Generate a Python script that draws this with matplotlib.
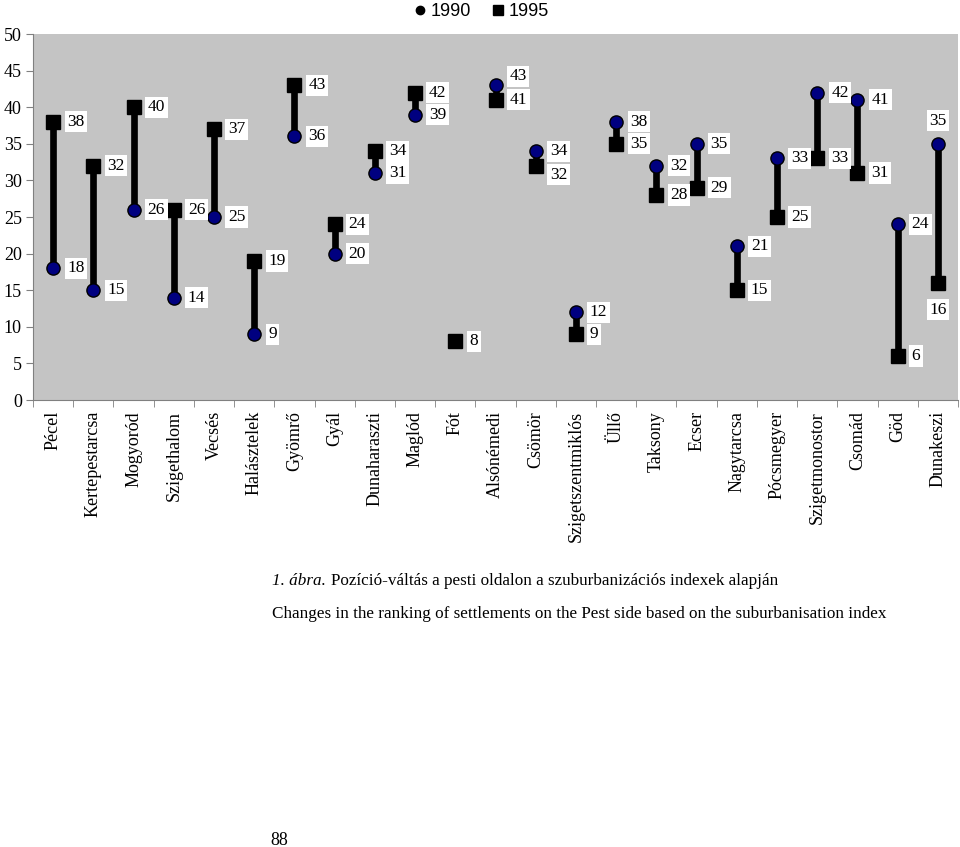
import matplotlib
matplotlib.use("Agg")
import matplotlib.pyplot as plt
from matplotlib.lines import Line2D

categories = ["Pécel", "Kertepestarcsa", "Mogyoród", "Szigethalom", "Vecsés",
              "Halásztelek", "Gyömrő", "Gyál", "Dunaharaszti", "Maglód", "Fót",
              "Alsónémedi", "Csömör", "Szigetszentmiklós", "Üllő", "Taksony",
              "Ecser", "Nagytarcsa", "Pócsmegyer", "Szigetmonostor", "Csomád",
              "Göd", "Dunakeszi"]
v1990 = [18, 15, 26, 14, 25, 9, 36, 20, 31, 39, 8, 43, 34, 12, 38, 32, 35, 21, 33, 42, 41, 24, 35]
v1995 = [38, 32, 40, 26, 37, 19, 43, 24, 34, 42, 8, 41, 32, 9, 35, 28, 29, 15, 25, 33, 31, 6, 16]

# label offsets in pixels (dx, dy, ha)
off1990 = {11: (14, 9, "left"), 22: (0, 23, "center")}
off1995 = {12: (14, -9, "left"), 22: (0, -27, "center")}

serif = ["Liberation Serif", "DejaVu Serif"]
sans = ["Liberation Sans", "DejaVu Sans"]

fig = plt.figure(figsize=(9.6, 8.47), dpi=100)
ax = fig.add_axes([33/960, 1-400/847, 925/960, 366/847])
ax.set_facecolor("#c4c4c4")

x = list(range(len(categories)))
for i in x:
    ax.plot([i, i], [v1990[i], v1995[i]], color="black", lw=4.8, solid_capstyle="butt", zorder=2)
ax.plot(x, v1990, "o", ls="none", ms=9.5, mfc="#000080", mec="black", mew=1.0, zorder=3)
ax.plot(x, v1995, "s", ls="none", ms=10, mfc="black", mec="black", zorder=4)

bbox = dict(boxstyle="square,pad=0.15", fc="white", ec="none")
for i in x:
    for vals, offs in ((v1990, off1990), (v1995, off1995)):
        dx, dy, ha = offs.get(i, (14, 0, "left"))
        ax.annotate(str(vals[i]), (i, vals[i]), xytext=(dx, dy), textcoords="offset pixels",
                    ha=ha, va="center", fontsize=12.5, family=serif, bbox=bbox, zorder=5)

ax.set_xlim(-0.5, len(categories) - 0.5)
ax.set_ylim(0, 50)
ax.set_yticks(range(0, 51, 5))
ax.set_yticklabels([str(v) for v in range(0, 51, 5)], family=serif, fontsize=13)
ax.set_xticks(x)
ax.set_xticklabels(categories, rotation=90, family=serif, fontsize=13)
ax.set_xticks([i - 0.5 for i in range(len(categories) + 1)], minor=True)
ax.tick_params(axis="x", which="major", length=0, pad=8)
ax.tick_params(axis="x", which="minor", length=5, color="#808080", direction="out")
ax.tick_params(axis="y", length=5, color="#808080", direction="out", pad=3)
for s in ("top", "right"):
    ax.spines[s].set_visible(False)
for s in ("left", "bottom"):
    ax.spines[s].set_color("#808080")
    ax.spines[s].set_linewidth(0.8)

handles = [Line2D([], [], marker="o", ls="none", color="black", ms=6),
           Line2D([], [], marker="s", ls="none", color="black", ms=7)]
fig.legend(handles, ["1990", "1995"], loc="center", bbox_to_anchor=(480/960, 1-12/847),
           ncol=2, frameon=False, prop=dict(family=sans, size=13),
           handletextpad=0.1, columnspacing=1.0, handlelength=1.0)

fig.text(272/960, 1-581/847, "1. ábra.", style="italic", family=serif, fontsize=12.3, va="center")
fig.text(331/960, 1-581/847, "Pozíció-váltás a pesti oldalon a szuburbanizációs indexek alapján",
         family=serif, fontsize=12.3, va="center")
fig.text(272/960, 1-614/847,
         "Changes in the ranking of settlements on the Pest side based on the suburbanisation index",
         family=serif, fontsize=12.3, va="center")
fig.text(270/960, 1-840/847, "88", family=serif, fontsize=13, va="center")

fig.savefig("out.png", dpi=100, facecolor="white")
